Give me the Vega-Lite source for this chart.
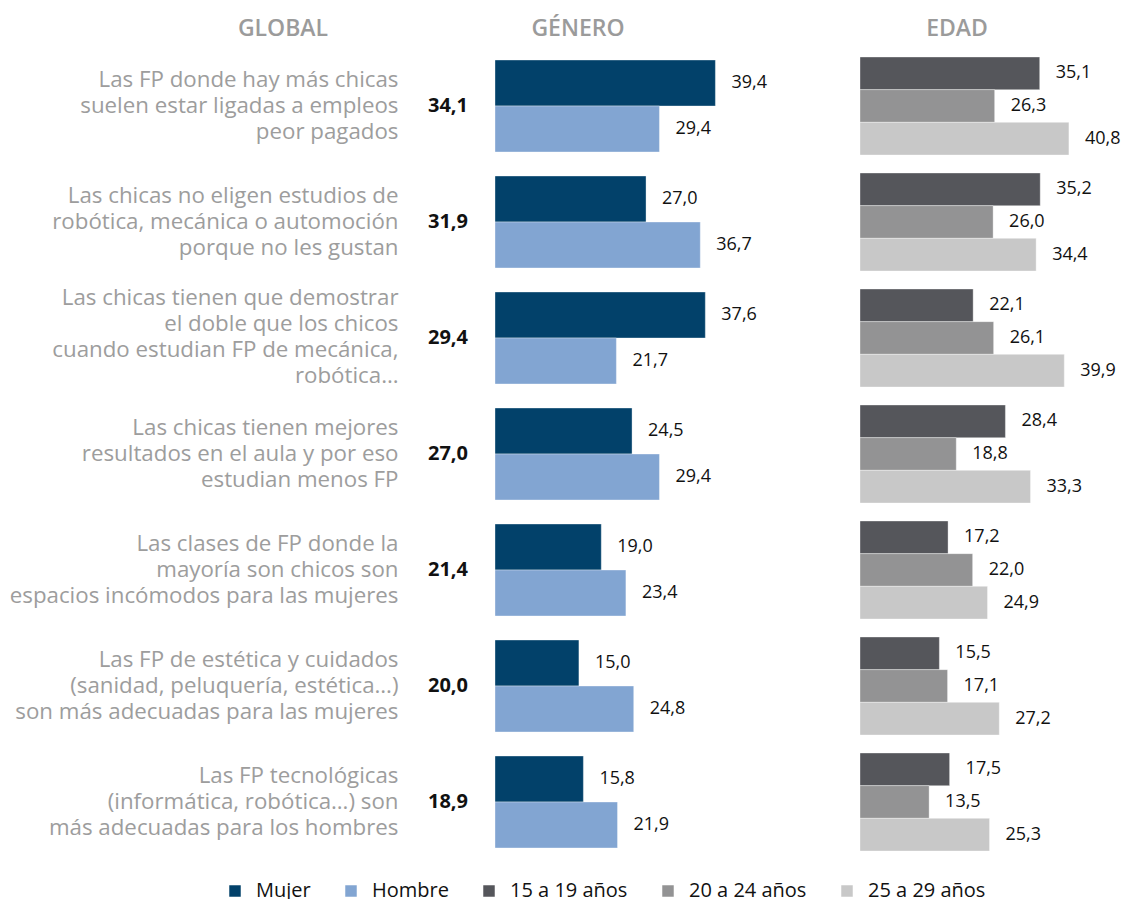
{
  "$schema": "https://vega.github.io/schema/vega-lite/v6.json",
  "padding": {"left": 9, "top": 18, "right": 5, "bottom": 20},
  "spacing": 6,
  "config": {
    "view": {"stroke": null},
    "font": "Open Sans",
    "locale": {"number": {"decimal": ",", "thousands": ".", "grouping": [3], "currency": ["", " €"]}},
    "title": {"fontSize": 23, "fontWeight": 600, "color": "#9B9B9B", "font": "Open Sans"}
  },
  "datasets": {
    "global": [
      {"q": "Las FP donde hay más chicas|suelen estar ligadas a empleos|peor pagados", "value": 34.1},
      {"q": "Las chicas no eligen estudios de|robótica, mecánica o automoción|porque no les gustan", "value": 31.9},
      {"q": "Las chicas tienen que demostrar|el doble que los chicos|cuando estudian FP de mecánica,|robótica…", "value": 29.4},
      {"q": "Las chicas tienen mejores|resultados en el aula y por eso|estudian menos FP", "value": 27.0},
      {"q": "Las clases de FP donde la|mayoría son chicos son|espacios incómodos para las mujeres", "value": 21.4},
      {"q": "Las FP de estética y cuidados|(sanidad, peluquería, estética…)|son más adecuadas para las mujeres", "value": 20.0},
      {"q": "Las FP tecnológicas|(informática, robótica…) son|más adecuadas para los hombres", "value": 18.9}
    ],
    "genero": [
      {"q": "Las FP donde hay más chicas|suelen estar ligadas a empleos|peor pagados", "grupo": "Mujer", "value": 39.4},
      {"q": "Las FP donde hay más chicas|suelen estar ligadas a empleos|peor pagados", "grupo": "Hombre", "value": 29.4},
      {"q": "Las chicas no eligen estudios de|robótica, mecánica o automoción|porque no les gustan", "grupo": "Mujer", "value": 27.0},
      {"q": "Las chicas no eligen estudios de|robótica, mecánica o automoción|porque no les gustan", "grupo": "Hombre", "value": 36.7},
      {"q": "Las chicas tienen que demostrar|el doble que los chicos|cuando estudian FP de mecánica,|robótica…", "grupo": "Mujer", "value": 37.6},
      {"q": "Las chicas tienen que demostrar|el doble que los chicos|cuando estudian FP de mecánica,|robótica…", "grupo": "Hombre", "value": 21.7},
      {"q": "Las chicas tienen mejores|resultados en el aula y por eso|estudian menos FP", "grupo": "Mujer", "value": 24.5},
      {"q": "Las chicas tienen mejores|resultados en el aula y por eso|estudian menos FP", "grupo": "Hombre", "value": 29.4},
      {"q": "Las clases de FP donde la|mayoría son chicos son|espacios incómodos para las mujeres", "grupo": "Mujer", "value": 19.0},
      {"q": "Las clases de FP donde la|mayoría son chicos son|espacios incómodos para las mujeres", "grupo": "Hombre", "value": 23.4},
      {"q": "Las FP de estética y cuidados|(sanidad, peluquería, estética…)|son más adecuadas para las mujeres", "grupo": "Mujer", "value": 15.0},
      {"q": "Las FP de estética y cuidados|(sanidad, peluquería, estética…)|son más adecuadas para las mujeres", "grupo": "Hombre", "value": 24.8},
      {"q": "Las FP tecnológicas|(informática, robótica…) son|más adecuadas para los hombres", "grupo": "Mujer", "value": 15.8},
      {"q": "Las FP tecnológicas|(informática, robótica…) son|más adecuadas para los hombres", "grupo": "Hombre", "value": 21.9}
    ],
    "edad": [
      {"q": "Las FP donde hay más chicas|suelen estar ligadas a empleos|peor pagados", "grupo": "15 a 19 años", "value": 35.1},
      {"q": "Las FP donde hay más chicas|suelen estar ligadas a empleos|peor pagados", "grupo": "20 a 24 años", "value": 26.3},
      {"q": "Las FP donde hay más chicas|suelen estar ligadas a empleos|peor pagados", "grupo": "25 a 29 años", "value": 40.8},
      {"q": "Las chicas no eligen estudios de|robótica, mecánica o automoción|porque no les gustan", "grupo": "15 a 19 años", "value": 35.2},
      {"q": "Las chicas no eligen estudios de|robótica, mecánica o automoción|porque no les gustan", "grupo": "20 a 24 años", "value": 26.0},
      {"q": "Las chicas no eligen estudios de|robótica, mecánica o automoción|porque no les gustan", "grupo": "25 a 29 años", "value": 34.4},
      {"q": "Las chicas tienen que demostrar|el doble que los chicos|cuando estudian FP de mecánica,|robótica…", "grupo": "15 a 19 años", "value": 22.1},
      {"q": "Las chicas tienen que demostrar|el doble que los chicos|cuando estudian FP de mecánica,|robótica…", "grupo": "20 a 24 años", "value": 26.1},
      {"q": "Las chicas tienen que demostrar|el doble que los chicos|cuando estudian FP de mecánica,|robótica…", "grupo": "25 a 29 años", "value": 39.9},
      {"q": "Las chicas tienen mejores|resultados en el aula y por eso|estudian menos FP", "grupo": "15 a 19 años", "value": 28.4},
      {"q": "Las chicas tienen mejores|resultados en el aula y por eso|estudian menos FP", "grupo": "20 a 24 años", "value": 18.8},
      {"q": "Las chicas tienen mejores|resultados en el aula y por eso|estudian menos FP", "grupo": "25 a 29 años", "value": 33.3},
      {"q": "Las clases de FP donde la|mayoría son chicos son|espacios incómodos para las mujeres", "grupo": "15 a 19 años", "value": 17.2},
      {"q": "Las clases de FP donde la|mayoría son chicos son|espacios incómodos para las mujeres", "grupo": "20 a 24 años", "value": 22.0},
      {"q": "Las clases de FP donde la|mayoría son chicos son|espacios incómodos para las mujeres", "grupo": "25 a 29 años", "value": 24.9},
      {"q": "Las FP de estética y cuidados|(sanidad, peluquería, estética…)|son más adecuadas para las mujeres", "grupo": "15 a 19 años", "value": 15.5},
      {"q": "Las FP de estética y cuidados|(sanidad, peluquería, estética…)|son más adecuadas para las mujeres", "grupo": "20 a 24 años", "value": 17.1},
      {"q": "Las FP de estética y cuidados|(sanidad, peluquería, estética…)|son más adecuadas para las mujeres", "grupo": "25 a 29 años", "value": 27.2},
      {"q": "Las FP tecnológicas|(informática, robótica…) son|más adecuadas para los hombres", "grupo": "15 a 19 años", "value": 17.5},
      {"q": "Las FP tecnológicas|(informática, robótica…) son|más adecuadas para los hombres", "grupo": "20 a 24 años", "value": 13.5},
      {"q": "Las FP tecnológicas|(informática, robótica…) son|más adecuadas para los hombres", "grupo": "25 a 29 años", "value": 25.3}
    ]
  },
  "resolve": {"scale": {"x": "independent", "y": "independent", "yOffset": "independent", "color": "shared"}},
  "hconcat": [
    {
      "width": 80,
      "height": 812,
      "title": {"text": "GLOBAL", "anchor": "middle", "dx": -165, "offset": 7},
      "data": {"name": "global"},
      "mark": {"type": "text", "fontSize": 20, "fontWeight": "bold", "color": "#111111"},
      "encoding": {
        "y": {
          "field": "q", "type": "nominal", "sort": null,
          "scale": {"paddingInner": 0.207, "paddingOuter": 0.1035},
          "axis": {"title": null, "domain": false, "ticks": false, "labelPadding": 10,
                   "labelExpr": "split(datum.label, '|')", "labelFontSize": 22.3,
                   "labelColor": "#9D9D9D", "labelLineHeight": 26, "labelLimit": 0,
                   "labelAlign": "right", "labelFont": "Open Sans",
                   "labelOffset": {"condition": {"test": "indexof(datum.value, 'demostrar') >= 0", "value": -41}, "value": -27}}
        },
        "text": {"field": "value", "type": "quantitative", "format": ".1f"}
      }
    },
    {
      "width": 358,
      "height": 812,
      "title": {"text": "GÉNERO", "anchor": "middle", "dx": -96, "offset": 7},
      "data": {"name": "genero"},
      "encoding": {
        "y": {"field": "q", "type": "nominal", "sort": null, "axis": null,
              "scale": {"paddingInner": 0.207, "paddingOuter": 0.1035}},
        "yOffset": {"field": "grupo", "type": "nominal", "sort": ["Mujer", "Hombre"],
                    "scale": {"paddingInner": 0, "paddingOuter": 0}},
        "x": {"field": "value", "type": "quantitative", "axis": null,
              "scale": {"domain": [0, 64], "nice": false, "zero": true}}
      },
      "layer": [
        {
          "mark": {"type": "bar", "stroke": "#ffffff", "strokeWidth": 0.6, "strokeOpacity": 0.6},
          "encoding": {
            "color": {
              "field": "grupo", "type": "nominal",
              "scale": {"domain": ["Mujer", "Hombre", "15 a 19 años", "20 a 24 años", "25 a 29 años"],
                        "range": ["#02416A", "#82A5D2", "#55565B", "#939394", "#C8C8C8"]},
              "legend": {"orient": "none", "legendX": -183, "legendY": 833, "direction": "horizontal",
                         "title": null, "symbolType": "square", "symbolSize": 132,
                         "symbolStrokeWidth": 0, "labelFontSize": 20, "labelColor": "#111111",
                         "columnPadding": 30, "labelOffset": 11, "labelFont": "Open Sans"}
            }
          }
        },
        {
          "mark": {"type": "text", "align": "left", "dx": 16, "fontSize": 18, "color": "#111111"},
          "encoding": {"text": {"field": "value", "type": "quantitative", "format": ".1f"}}
        }
      ]
    },
    {
      "width": 256,
      "height": 812,
      "title": {"text": "EDAD", "anchor": "middle", "dx": -31, "offset": 7},
      "data": {"name": "edad"},
      "encoding": {
        "y": {"field": "q", "type": "nominal", "sort": null, "axis": null,
              "scale": {"paddingInner": 0.155, "paddingOuter": 0.0775}},
        "yOffset": {"field": "grupo", "type": "nominal", "sort": ["15 a 19 años", "20 a 24 años", "25 a 29 años"],
                    "scale": {"paddingInner": 0, "paddingOuter": 0}},
        "x": {"field": "value", "type": "quantitative", "axis": null,
              "scale": {"domain": [0, 50], "nice": false, "zero": true}}
      },
      "layer": [
        {
          "mark": {"type": "bar", "stroke": "#ffffff", "strokeWidth": 0.6, "strokeOpacity": 0.6},
          "encoding": {
            "color": {
              "field": "grupo", "type": "nominal",
              "scale": {"domain": ["Mujer", "Hombre", "15 a 19 años", "20 a 24 años", "25 a 29 años"],
                        "range": ["#02416A", "#82A5D2", "#55565B", "#939394", "#C8C8C8"]},
              "legend": {"orient": "none", "legendX": -183, "legendY": 833, "direction": "horizontal",
                         "title": null, "symbolType": "square", "symbolSize": 132,
                         "symbolStrokeWidth": 0, "labelFontSize": 20, "labelColor": "#111111",
                         "columnPadding": 30, "labelOffset": 11, "labelFont": "Open Sans"}
            }
          }
        },
        {
          "mark": {"type": "text", "align": "left", "dx": 16, "fontSize": 18, "color": "#111111"},
          "encoding": {"text": {"field": "value", "type": "quantitative", "format": ".1f"}}
        }
      ]
    }
  ]
}
